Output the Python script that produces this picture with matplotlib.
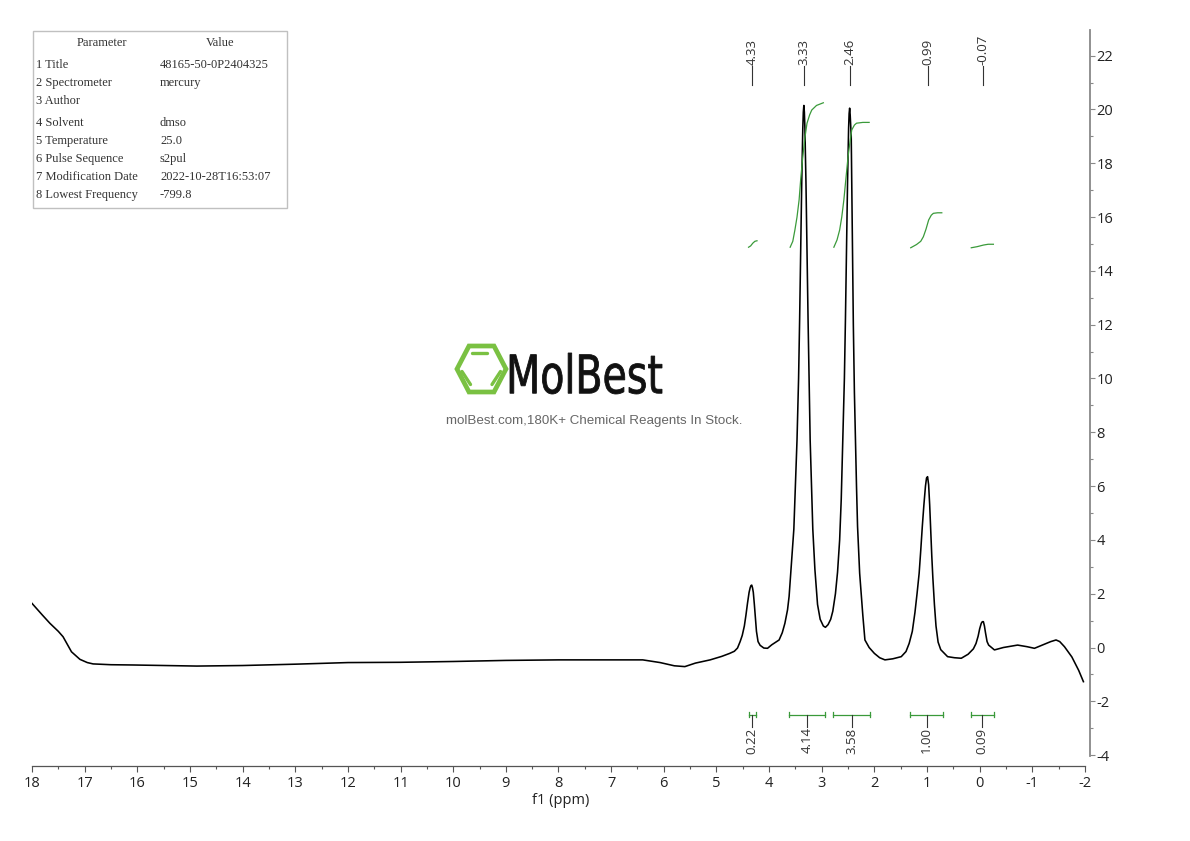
import matplotlib
matplotlib.use('Agg')
import matplotlib.pyplot as plt
from matplotlib.patches import Rectangle, Polygon, PathPatch
from matplotlib.textpath import TextPath
from matplotlib.font_manager import FontProperties
from matplotlib.transforms import Affine2D
from matplotlib.ticker import MultipleLocator

plt.rcParams['font.family'] = ['Open Sans', 'DejaVu Sans']
plt.rcParams['axes.unicode_minus'] = False

# 1H spectrum trace (ppm, intensity)
spec_ppm = [18.00, 17.80, 17.66, 17.50, 17.41, 17.25, 17.09, 16.95, 16.84, 16.50,
            16.08, 15.50, 14.87, 14.00, 13.00, 12.00, 11.00, 10.00, 9.00, 8.00,
            7.00, 6.40, 6.07, 5.80, 5.60, 5.40, 5.12, 4.90, 4.75, 4.66, 4.60,
            4.55, 4.51, 4.47, 4.44, 4.41, 4.38, 4.36, 4.345, 4.33, 4.315, 4.30, 4.28, 4.26,
            4.24, 4.21, 4.17, 4.10, 4.03, 3.95, 3.81, 3.75, 3.70, 3.65, 3.62,
            3.58, 3.53, 3.50, 3.47, 3.44, 3.42, 3.40, 3.38, 3.36, 3.35, 3.34,
            3.33, 3.32, 3.30, 3.28, 3.26, 3.24, 3.22, 3.19, 3.17, 3.13, 3.08,
            3.03, 2.97, 2.93, 2.88, 2.83, 2.79, 2.74, 2.70, 2.66, 2.63,
            2.60, 2.57, 2.55, 2.53, 2.51, 2.49, 2.48, 2.47, 2.46, 2.44, 2.42, 2.40,
            2.38, 2.36, 2.34, 2.32, 2.28, 2.22, 2.18, 2.10, 2.00, 1.90, 1.80,
            1.65, 1.49, 1.40, 1.34, 1.28, 1.23, 1.19, 1.15, 1.12, 1.09, 1.06,
            1.03, 1.01, 0.99, 0.97, 0.95, 0.93, 0.91, 0.89, 0.86, 0.83, 0.79, 0.74, 0.61, 0.48,
            0.35, 0.22, 0.12, 0.07, 0.03, 0.00, -0.03, -0.05, -0.07, -0.09, -0.11, -0.14, -0.17,
            -0.28, -0.45, -0.72, -0.90, -1.04, -1.20, -1.35, -1.45, -1.52, -1.61,
            -1.75, -1.88, -1.97]
spec_int = [1.64, 1.20, 0.90, 0.60, 0.40, -0.16, -0.44, -0.56, -0.61, -0.64,
            -0.65, -0.67, -0.69, -0.67, -0.62, -0.56, -0.55, -0.52, -0.48, -0.46,
            -0.46, -0.46, -0.56, -0.68, -0.71, -0.58, -0.46, -0.33, -0.22, -0.14, -0.02,
            0.22, 0.45, 0.80, 1.20, 1.65, 2.05, 2.22, 2.30, 2.32, 2.22, 2.05, 1.60, 1.10,
            0.60, 0.22, 0.08, -0.02, -0.03, 0.10, 0.28, 0.55, 0.90, 1.40, 1.90,
            3.00, 4.40, 6.00, 7.70, 10.0, 12.2, 14.7, 17.3, 19.3, 19.9, 20.15,
            19.9, 19.3, 17.3, 14.7, 12.2, 10.0, 7.70, 5.80, 4.40, 2.90, 1.60,
            1.05, 0.80, 0.75, 0.85, 1.05, 1.35, 2.00, 2.80, 4.00, 5.50,
            7.70, 10.0, 12.2, 14.7, 17.3, 19.3, 19.85, 20.05, 19.8, 19.0, 15.5, 12.0,
            9.50, 7.70, 6.00, 4.50, 2.76, 1.20, 0.28, 0.00, -0.22, -0.38, -0.46,
            -0.42, -0.34, -0.15, 0.15, 0.60, 1.30, 2.00, 2.76, 3.60, 4.50, 5.30,
            6.00, 6.30, 6.35, 6.05, 5.30, 4.30, 3.40, 2.60, 1.60, 0.80, 0.20, -0.08, -0.34, -0.38,
            -0.40, -0.25, -0.05, 0.15, 0.42, 0.70, 0.90, 0.96, 0.96, 0.80, 0.55, 0.22, 0.09,
            -0.09, 0.00, 0.09, 0.03, -0.03, 0.10, 0.22, 0.28, 0.22, 0.03,
            -0.35, -0.85, -1.27]

peak_ppm = [4.33, 3.33, 2.46, 0.99, -0.07]
peak_labels = ['4.33', '3.33', '2.46', '0.99', '-0.07']

# integration ranges and values
int_start = [4.39, 3.62, 2.78, 1.32, 0.17]
int_end = [4.25, 2.94, 2.08, 0.70, -0.27]
int_labels = ['0.22', '4.14', '3.58', '1.00', '0.09']

# integral curves (ppm, level)
integral_ppm = [
    [4.39, 4.35, 4.31, 4.27, 4.23],
    [3.60, 3.55, 3.51, 3.47, 3.43, 3.40, 3.36, 3.32, 3.28, 3.23, 3.19, 3.10, 2.97],
    [2.77, 2.71, 2.66, 2.62, 2.58, 2.54, 2.50, 2.46, 2.43, 2.38, 2.34, 2.22, 2.10],
    [1.31, 1.20, 1.12, 1.07, 1.02, 0.97, 0.92, 0.88, 0.80, 0.72],
    [0.16, 0.05, -0.07, -0.16, -0.26],
]
integral_val = [
    [14.88, 14.93, 15.03, 15.10, 15.12],
    [14.88, 15.10, 15.52, 16.00, 16.64, 17.40, 18.25, 18.95, 19.49, 19.80, 19.98, 20.15, 20.25],
    [14.88, 15.15, 15.52, 16.00, 16.64, 17.45, 18.25, 18.85, 19.24, 19.42, 19.49, 19.52, 19.52],
    [14.86, 14.98, 15.10, 15.27, 15.55, 15.89, 16.07, 16.14, 16.16, 16.16],
    [14.86, 14.90, 14.96, 14.99, 14.99],
]

param_names = ['1 Title', '2 Spectrometer', '3 Author', '4 Solvent', '5 Temperature',
               '6 Pulse Sequence', '7 Modification Date', '8 Lowest Frequency']
param_values = ['48165-50-0P2404325', 'mercury', '', 'dmso', '25.0',
                's2pul', '2022-10-28T16:53:07', '-799.8']

GREEN = '#3a9a3a'
TXT = '#333333'

fig = plt.figure(figsize=(11.9, 8.41), dpi=100)

# overlay in pixel coordinates for the table and the watermark
ov = fig.add_axes([0, 0, 1, 1], zorder=0)
ov.set_xlim(0, 1190)
ov.set_ylim(841, 0)
ov.axis('off')

ax = fig.add_axes([32 / 1190, 75 / 841, 1058 / 1190, 736 / 841], zorder=1)
ax.patch.set_alpha(0)

ax.plot(spec_ppm, spec_int, color='black', lw=1.15)

for xs, ys in zip(integral_ppm, integral_val):
    ax.plot(xs, ys, color=GREEN, lw=0.9)

# peak picking labels
for p, lab in zip(peak_ppm, peak_labels):
    ax.plot([p, p], [20.91, 21.62], color=TXT, lw=0.8, clip_on=False)
    ax.text(p, 21.66, lab, rotation=90, ha='center', va='bottom', fontsize=9.5,
            color=TXT, clip_on=False)

# integration brackets
for a, b, lab in zip(int_start, int_end, int_labels):
    c = (a + b) / 2
    ax.plot([a, b], [-2.5, -2.5], color=GREEN, lw=0.9)
    ax.plot([a, a], [-2.4, -2.6], color=GREEN, lw=0.9)
    ax.plot([b, b], [-2.4, -2.6], color=GREEN, lw=0.9)
    ax.plot([c, c], [-2.5, -2.95], color=TXT, lw=0.8)
    ax.text(c, -2.97, lab, rotation=90, ha='center', va='top', fontsize=9.5, color=TXT)

ax.set_xlim(18, -2.095)
ax.set_ylim(-4.405, 22.955)

for s in ['top', 'left']:
    ax.spines[s].set_visible(False)
ax.spines['bottom'].set_bounds(-2, 18)
ax.spines['bottom'].set_color('#555555')
ax.spines['bottom'].set_linewidth(0.9)
ax.spines['right'].set_bounds(-4.05, 22.955)
ax.spines['right'].set_color('#888888')
ax.spines['right'].set_linewidth(1.3)

ax.xaxis.set_major_locator(MultipleLocator(1))
ax.xaxis.set_minor_locator(MultipleLocator(0.5))
ax.yaxis.set_major_locator(MultipleLocator(2))
ax.yaxis.set_minor_locator(MultipleLocator(1))
ax.yaxis.tick_right()
ax.tick_params(axis='x', which='major', direction='out', length=4, width=0.8,
               color='#555555', labelsize=10.5, labelcolor='#222222', pad=3)
ax.tick_params(axis='x', which='minor', direction='out', length=2.5, width=0.8, color='#555555')
ax.tick_params(axis='y', which='major', direction='out', length=3.5, width=0.8,
               color='#888888', labelsize=10.5, labelcolor='#222222', pad=1)
ax.tick_params(axis='y', which='minor', direction='out', length=2.2, width=0.8, color='#888888')
ax.set_xticks([t for t in range(-2, 19)])
ax.set_yticks([t for t in range(-4, 23, 2)])
ax.set_xlabel('f1 (ppm)', fontsize=10.5, color='#222222', labelpad=2)

# parameter table
ov.add_patch(Rectangle((33, 31), 254, 177, fill=False, edgecolor='#c0c0c0', lw=1))
serif = dict(family=['Liberation Serif', 'DejaVu Serif'], fontsize=9, color=TXT, va='center')
ov.text(102, 43, 'Parameter', ha='center', **serif)
ov.text(220, 43, 'Value', ha='center', **serif)
row_y = [65, 83, 101, 123, 141, 159, 177, 195]
for y, n, v in zip(row_y, param_names, param_values):
    ov.text(36, y, n, ha='left', **serif)
    ov.text(160, y, v, ha='left', **serif)

# watermark
LOGO = '#7ac142'
ov.add_patch(Polygon([(457, 369), (469, 346), (494, 346), (506, 369), (494, 392), (469, 392)],
                     closed=True, fill=False, edgecolor=LOGO, lw=3.4, joinstyle='miter'))
for (x0, y0), (x1, y1) in [((472, 353), (487, 353)), ((462, 371.5), (470.5, 384.5)),
                           ((500.5, 371.5), (492, 384.5))]:
    ov.plot([x0, x1], [y0, y1], color=LOGO, lw=2.4, solid_capstyle='round')

tp = TextPath((0, 0), 'MolBest', size=100, prop=FontProperties(family='DejaVu Sans'))
bb = tp.get_extents()
sx = (662 - 510) / bb.width
sy = (394 - 353) / bb.height
tr = Affine2D().translate(-bb.x0, -bb.y0).scale(sx, -sy).translate(510, 394)
ov.add_patch(PathPatch(tr.transform_path(tp), facecolor='#111111', edgecolor='#111111', lw=0.6))

ov.text(594, 421, 'molBest.com,180K+ Chemical Reagents In Stock.', ha='center', va='center',
        fontsize=9.6, color='#666666', family=['Liberation Sans', 'DejaVu Sans'])

fig.savefig('out.png', dpi=100, facecolor='white')
